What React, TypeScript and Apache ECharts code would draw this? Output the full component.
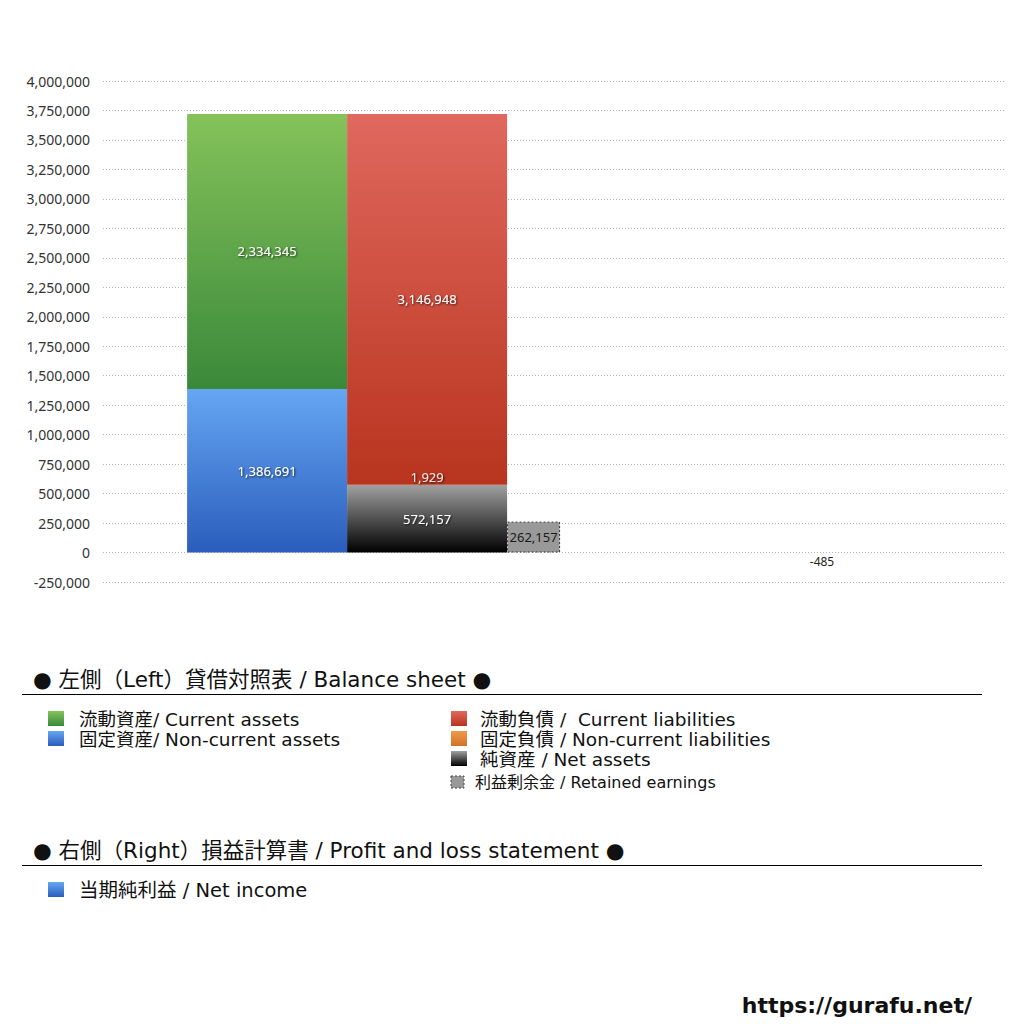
import React, { useEffect, useRef } from "react";
import * as echarts from "echarts";

// ---- data ----
const bsSlots = ["", "貸借対照表", "", "", ""];
const bsIndex = 1;
const plSlots = ["", "損益計算書"];
const plIndex = 1;

const currentAssets = 2334345;
const nonCurrentAssets = 1386691;
const currentLiabilities = 3146948;
const nonCurrentLiabilities = 1929;
const netAssets = 572157;
const retainedEarnings = 262157;
const netIncome = -485;

const yMin = -250000;
const yMax = 4000000;
const yStep = 250000;

const bsTitle = "● 左側（Left）貸借対照表 / Balance sheet ●";
const plTitle = "● 右側（Right）損益計算書 / Profit and loss statement ●";
const legendLeft = ["流動資産/ Current assets", "固定資産/ Non-current assets"];
const legendRight = [
  "流動負債 /  Current liabilities",
  "固定負債 / Non-current liabilities",
  "純資産 / Net assets",
];
const legendRetained = "利益剰余金 / Retained earnings";
const legendPL = ["当期純利益 / Net income"];
const siteUrl = "https://gurafu.net/";

const grad = (top: string, bottom: string) =>
  new echarts.graphic.LinearGradient(0, 0, 0, 1, [
    { offset: 0, color: top },
    { offset: 1, color: bottom },
  ]);

const GREEN = ["#85c25a", "#3a893a"];
const BLUE = ["#66a6f3", "#2a5dbc"];
const RED = ["#e0685e", "#b8341e"];
const ORANGE = ["#ee9a48", "#d4702a"];
const BLACK = ["#a0a0a0", "#000000"];

const slotData = (slots: string[], idx: number, v: number | null) =>
  slots.map((_, i) => (i === idx ? v : null));

const fmt = (v: number) => v.toLocaleString("en-US");

const LATIN = "'Noto Sans', 'Noto Sans CJK JP', sans-serif";
const LEG = "'DejaVu Sans', 'Noto Sans CJK JP', sans-serif";

const inLabel = {
  show: true,
  position: "inside" as const,
  color: "#ffffff",
  fontSize: 13,
  fontFamily: LATIN,
  textShadowColor: "rgba(0,0,0,0.75)",
  textShadowBlur: 2,
  textShadowOffsetX: 1,
  textShadowOffsetY: 1,
  formatter: (p: any) => fmt(p.value),
};

export default function App() {
  const ref = useRef<HTMLDivElement>(null);

  useEffect(() => {
    if (!ref.current) return;
    const chart = echarts.init(ref.current, undefined, { renderer: "svg" });

    const square = (x: number, y: number, c: string[], size = 16, dashed = false) => ({
      type: "rect",
      x,
      y,
      shape: { x: 0, y: 0, width: size, height: size - 1 },
      style: dashed
        ? { fill: "#999999", stroke: "#444444", lineWidth: 1, lineDash: [2, 2] }
        : { fill: grad(c[0], c[1]) },
    });
    const text = (x: number, y: number, t: string, size: number, weight = "normal", align = "left") => ({
      type: "text",
      x,
      y,
      style: {
        text: t,
        fill: "#111111",
        font: `${weight} ${size}px ${LEG}`,
        align,
        verticalAlign: "middle",
      },
    });

    const graphics: any[] = [
      text(33, 679, bsTitle, 21.5),
      { type: "line", shape: { x1: 22, y1: 694.5, x2: 982, y2: 694.5 }, style: { stroke: "#000", lineWidth: 1 } },
      square(48, 711, GREEN),
      text(79, 719, legendLeft[0], 18.5),
      square(48, 731, BLUE),
      text(79, 739, legendLeft[1], 18.5),
      square(451, 711, RED),
      text(480, 719, legendRight[0], 18.5),
      square(451, 731, ORANGE),
      text(480, 739, legendRight[1], 18.5),
      square(451, 751, BLACK),
      text(480, 759, legendRight[2], 18.5),
      square(451, 776, BLACK, 13, true),
      text(475, 782, legendRetained, 16),
      text(33, 850, plTitle, 21.5),
      { type: "line", shape: { x1: 22, y1: 865.5, x2: 982, y2: 865.5 }, style: { stroke: "#000", lineWidth: 1 } },
      square(48, 882, BLUE),
      text(79, 890, legendPL[0], 19.5),
      text(972, 1005, siteUrl, 22, "bold", "right"),
    ];

    chart.setOption({
      animation: false,
      backgroundColor: "#ffffff",
      grid: { left: 103, right: 19, top: 81, bottom: 442, containLabel: false },
      xAxis: [
        { type: "category", data: bsSlots, show: false },
        { type: "category", data: plSlots, show: false },
      ],
      yAxis: {
        type: "value",
        min: yMin,
        max: yMax,
        interval: yStep,
        axisLine: { show: false },
        axisTick: { show: false },
        axisLabel: {
          color: "#333333",
          fontSize: 14,
          fontFamily: LATIN,
          margin: 13,
          formatter: (v: number) => fmt(v),
        },
        splitLine: { lineStyle: { type: [1, 2], color: "#b5b5b5", width: 1 } },
      },
      series: [
        {
          name: "固定資産",
          type: "bar",
          stack: "assets",
          barWidth: 160,
          barGap: "0%",
          data: slotData(bsSlots, bsIndex, nonCurrentAssets),
          itemStyle: { color: grad(BLUE[0], BLUE[1]) },
          label: inLabel,
        },
        {
          name: "流動資産",
          type: "bar",
          stack: "assets",
          barWidth: 160,
          data: slotData(bsSlots, bsIndex, currentAssets),
          itemStyle: { color: grad(GREEN[0], GREEN[1]) },
          label: inLabel,
        },
        {
          name: "純資産",
          type: "bar",
          stack: "liab",
          barWidth: 160,
          data: slotData(bsSlots, bsIndex, netAssets),
          itemStyle: { color: grad(BLACK[0], BLACK[1]) },
          label: inLabel,
        },
        {
          name: "固定負債",
          type: "bar",
          stack: "liab",
          barWidth: 160,
          data: slotData(bsSlots, bsIndex, nonCurrentLiabilities),
          itemStyle: { color: grad(ORANGE[0], ORANGE[1]) },
          label: { ...inLabel, color: "#f4e6e2", offset: [0, -8] },
        },
        {
          name: "流動負債",
          type: "bar",
          stack: "liab",
          barWidth: 160,
          data: slotData(bsSlots, bsIndex, currentLiabilities),
          itemStyle: { color: grad(RED[0], RED[1]) },
          label: inLabel,
        },
        {
          name: "利益剰余金",
          type: "bar",
          barWidth: 53,
          data: slotData(bsSlots, bsIndex, retainedEarnings),
          itemStyle: { color: "#999999", borderColor: "#333333", borderWidth: 1, borderType: [2, 2] },
          label: {
            show: true,
            position: "inside",
            color: "#1a1a1a",
            fontSize: 13,
            fontFamily: LATIN,
            formatter: (p: any) => fmt(p.value),
          },
        },
        {
          name: "売上高",
          type: "bar",
          xAxisIndex: 1,
          barWidth: 85,
          barGap: "0%",
          data: slotData(plSlots, plIndex, null),
        },
        {
          name: "当期純利益",
          type: "bar",
          xAxisIndex: 1,
          barWidth: 85,
          data: slotData(plSlots, plIndex, netIncome),
          itemStyle: { color: grad(BLUE[0], BLUE[1]) },
          label: {
            show: true,
            position: "bottom",
            distance: 3,
            color: "#222222",
            fontSize: 12,
            fontFamily: LATIN,
            formatter: (p: any) => fmt(p.value),
          },
        },
      ],
      graphic: graphics,
    });

    return () => chart.dispose();
  }, []);

  return (
    <div
      ref={ref}
      style={{ position: "fixed", left: 0, top: 0, width: 1024, height: 1024, background: "#fff" }}
    />
  );
}
